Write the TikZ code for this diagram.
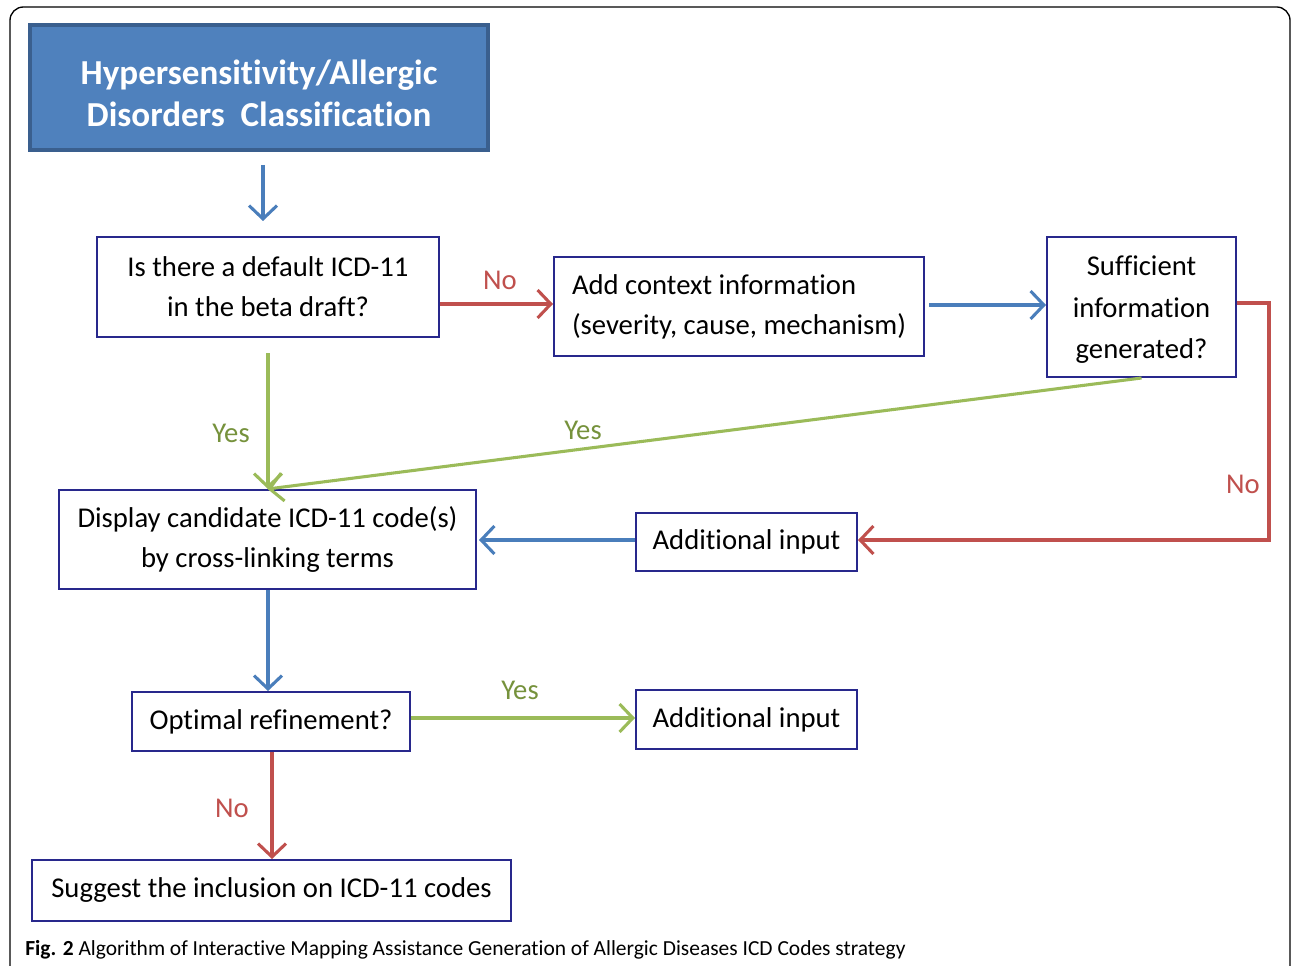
\documentclass[tikz,border=0pt]{standalone}
\usepackage{fontspec}
\setmainfont{Carlito}[Ligatures={NoCommon}]
\usetikzlibrary{arrows.meta}
\definecolor{titlefill}{HTML}{4F81BD}
\definecolor{titleline}{HTML}{3A5F8E}
\definecolor{boxline}{RGB}{40,40,140}
\definecolor{cred}{HTML}{C0504D}
\definecolor{cgreen}{HTML}{9BBB59}
\definecolor{cblue}{HTML}{4A7EBB}
\definecolor{lgreen}{HTML}{76923C}
\tikzset{
  stepbox/.style={draw=boxline, line width=1.5pt, fill=white, inner sep=0pt, align=center,
    font=\fontsize{21.5}{30}\selectfont},
  titlebox/.style={draw=titleline, line width=3pt, fill=titlefill, inner sep=0pt, align=center,
    text=white, font=\fontsize{26.3}{32}\selectfont\bfseries},
  arr/.style={line width=2.3pt, -{Straight Barb[length=10pt,width=21pt]}},
  redarr/.style={arr, draw=cred},
  greenarr/.style={arr, draw=cgreen},
  bluearr/.style={arr, draw=cblue},
  nolabel/.style={text=cred, font=\fontsize{21.5}{26}\selectfont},
  yeslabel/.style={text=lgreen, font=\fontsize{21.5}{26}\selectfont},
}
\begin{document}
\begin{tikzpicture}[x=0.75pt,y=-0.75pt]
\useasboundingbox (0,0) rectangle (1292,966);
\fill[white] (0,0) rectangle (1292,966);
\begin{scope}
\clip (0,0) rectangle (1292,966);
\draw[line width=1pt, rounded corners=10pt] (10,1000) -- (10,7) -- (1290,7) -- (1290,1000);
\end{scope}

\node[titlebox, minimum width=343.5pt, minimum height=93.75pt] (title) at (259,87.5)
  {\rule{0pt}{27pt}Hypersensitivity/Allergic\\Disorders\ \ Classification};
\node[stepbox, minimum width=256.5pt, minimum height=75pt] (b1) at (268,287)
  {Is there a default ICD-11\\in the beta draft?};
\node[stepbox, align=left, minimum width=277.5pt, minimum height=74.25pt] (b2) at (739,306.5)
  {Add context information\\(severity, cause, mechanism)};
\node[stepbox, minimum width=141.75pt, minimum height=105pt, font=\fontsize{21.5}{31.2}\selectfont] (b3) at (1141.5,307)
  {\rule{0pt}{19pt}Sufficient\\information\\generated?};
\node[stepbox, minimum width=312.75pt, minimum height=74.25pt] (b4) at (267.5,539.5)
  {Display candidate ICD-11 code(s)\\by cross-linking terms};
\node[stepbox, minimum width=165.75pt, minimum height=43.5pt] (b5) at (746.5,542)
  {Additional input};
\node[stepbox, minimum width=208.5pt, minimum height=44.25pt] (b6) at (271,721.5)
  {Optimal refinement?};
\node[stepbox, minimum width=165.75pt, minimum height=44.25pt] (b7) at (746.5,719.5)
  {Additional input};
\node[stepbox, minimum width=359.25pt, minimum height=45.75pt] (b8) at (271.5,890.5)
  {Suggest the inclusion on ICD-11 codes};

% connectors
\draw[bluearr, shorten <=9.75pt, shorten >=11.25pt] (title.south -| 263,0) -- (b1.north -| 263,0);
\draw[redarr] (b1.east |- 0,304) -- (b2.west |- 0,304);
\draw[bluearr, shorten <=3pt] (b2.east |- 0,305) -- (b3.west |- 0,305);
\draw[redarr] (b3.east |- 0,303) -- ++(32,0) |- (b5.east |- 0,540);
\draw[greenarr, shorten <=11.25pt] (b1.south -| 268,0) -- (b4.north -| 268,0);
\draw[greenarr] (b3.south) -- (b4.north);
\draw[bluearr, shorten >=1.5pt] (b5.west |- 0,540) -- (b4.east |- 0,540);
\draw[bluearr] (b4.south -| 268,0) -- (b6.north -| 268,0);
\draw[greenarr] (b6.east |- 0,718) -- (b7.west |- 0,718);
\draw[redarr] (b6.south -| 272,0) -- (b8.north -| 272,0);

% labels
\node[nolabel] (l1) at (500,280) {No};
\node[nolabel] (l2) at (1243,484) {No};
\node[yeslabel] (l3) at (231,433) {Yes};
\node[yeslabel] (l4) at (583,430) {Yes};
\node[yeslabel] (l5) at (520,690) {Yes};
\node[nolabel] (l6) at (232,808) {No};

% caption
\node[anchor=west, inner sep=0pt, font=\fontsize{16.1}{19}\selectfont] (cap) at (25,950)
  {\textbf{Fig. 2} Algorithm of Interactive Mapping Assistance Generation of Allergic Diseases ICD Codes strategy};
\end{tikzpicture}
\end{document}
